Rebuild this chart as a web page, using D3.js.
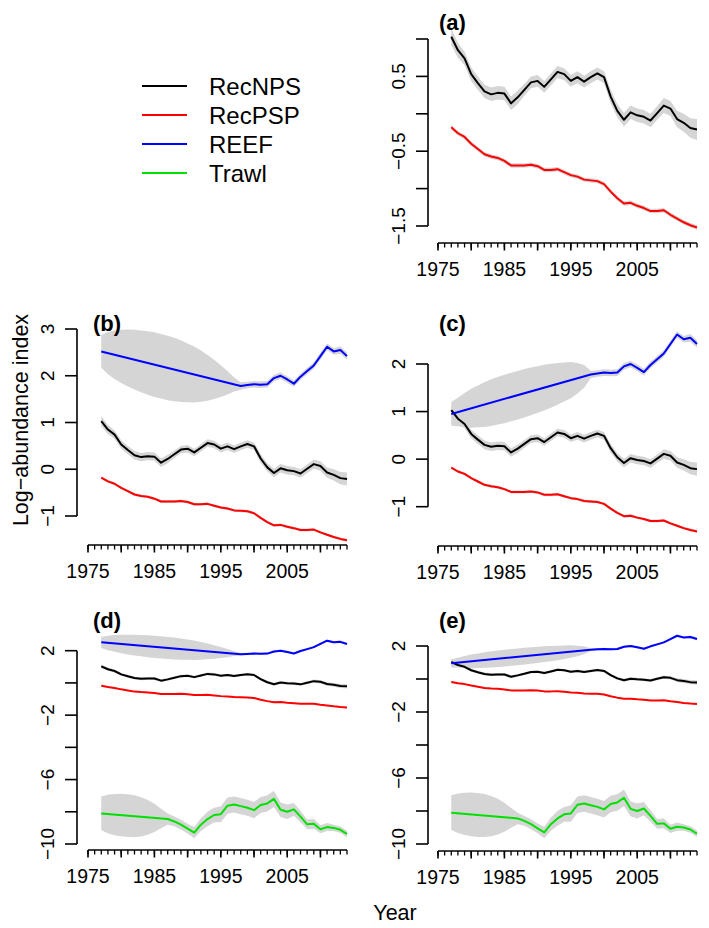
<!DOCTYPE html>
<html><head><meta charset="utf-8">
<script src="https://cdn.jsdelivr.net/npm/d3@7"></script>
<style>
body{margin:0;background:#fff}
svg{display:block}
text{font-family:"Liberation Sans",Arial,Helvetica,sans-serif;fill:#000}
</style>
</head><body>
<svg id="chart" width="709" height="928"></svg>
<script>
// ---------- data ----------
const years = [1977,1978,1979,1980,1981,1982,1983,1984,1985,1986,1987,1988,1989,1990,1991,1992,1993,1994,1995,1996,1997,1998,1999,2000,2001,2002,2003,2004,2005,2006,2007,2008,2009,2010,2011,2012,2013,2014];
const recNPS = [1.03,0.85,0.74,0.53,0.41,0.30,0.26,0.28,0.27,0.14,0.22,0.32,0.42,0.44,0.36,0.46,0.56,0.53,0.44,0.49,0.43,0.49,0.54,0.49,0.23,0.04,-0.08,0.02,-0.02,-0.04,-0.09,0.01,0.11,0.07,-0.07,-0.12,-0.19,-0.21];
const recNPSse = [0.11,0.10,0.09,0.09,0.09,0.09,0.09,0.09,0.09,0.09,0.09,0.08,0.08,0.08,0.08,0.08,0.08,0.08,0.08,0.08,0.08,0.08,0.08,0.08,0.09,0.09,0.09,0.09,0.09,0.09,0.09,0.09,0.10,0.10,0.11,0.12,0.13,0.14];
const recPSP = [-0.18,-0.26,-0.31,-0.40,-0.47,-0.54,-0.57,-0.59,-0.63,-0.69,-0.69,-0.69,-0.68,-0.70,-0.75,-0.75,-0.74,-0.78,-0.82,-0.84,-0.88,-0.89,-0.90,-0.94,-1.04,-1.13,-1.20,-1.19,-1.23,-1.26,-1.30,-1.30,-1.29,-1.35,-1.40,-1.45,-1.49,-1.52];
const recPSPse = [0.03,0.03,0.03,0.03,0.03,0.03,0.03,0.03,0.03,0.03,0.03,0.03,0.03,0.03,0.03,0.03,0.03,0.03,0.03,0.03,0.03,0.03,0.03,0.03,0.03,0.03,0.03,0.03,0.03,0.03,0.03,0.03,0.03,0.03,0.03,0.03,0.03,0.03];

const reefYears = [1977,1998,1999,2000,2001,2002,2003,2004,2005,2006,2007,2008,2009,2010,2011,2012,2013,2014];
const reefHigh  = [2.52,1.78,1.80,1.82,1.81,1.82,1.95,2.00,1.92,1.83,1.98,2.10,2.22,2.42,2.62,2.52,2.55,2.42]; // panels (b),(d)
const reefLow   = [0.95,1.78,1.80,1.82,1.81,1.82,1.95,2.00,1.92,1.83,1.98,2.10,2.22,2.42,2.62,2.52,2.55,2.42]; // panels (c),(e)
const reefHighSe = [0.35,0.45,0.52,0.57,0.61,0.64,0.66,0.68,0.69,0.69,0.69,0.68,0.66,0.63,0.60,0.55,0.49,0.42,0.34,0.25,0.15,0.08,0.07,0.07,0.07,0.07,0.07,0.07,0.07,0.07,0.07,0.07,0.07,0.07,0.07,0.07,0.08,0.08];
const reefLowSe  = [0.25,0.30,0.36,0.41,0.44,0.47,0.49,0.50,0.51,0.51,0.51,0.51,0.50,0.49,0.48,0.46,0.44,0.41,0.38,0.32,0.24,0.08,0.07,0.07,0.07,0.07,0.07,0.07,0.07,0.07,0.07,0.07,0.07,0.07,0.07,0.07,0.08,0.08];

const trawlYears = [1977,1987,1988,1989,1990,1991,1992,1993,1994,1995,1996,1997,1998,1999,2000,2001,2002,2003,2004,2005,2006,2007,2008,2009,2010,2011,2012,2013,2014];
const trawl = [-8.10,-8.45,-8.60,-8.80,-9.05,-9.30,-8.80,-8.45,-8.20,-8.15,-7.62,-7.55,-7.65,-7.75,-7.90,-7.58,-7.48,-7.20,-7.87,-8.00,-7.85,-8.30,-8.78,-8.75,-9.08,-8.95,-9.00,-9.12,-9.38];
const trawlSe = [1.05,1.20,1.28,1.32,1.33,1.30,1.22,1.08,0.88,0.60,0.35,0.30,0.30,0.30,0.35,0.40,0.45,0.45,0.50,0.50,0.50,0.50,0.50,0.50,0.50,0.50,0.50,0.45,0.45,0.40,0.35,0.30,0.30,0.25,0.25,0.20,0.20,0.20];

const legendNames = ["RecNPS","RecPSP","REEF","Trawl"];
const legendColors = ["#000000","#ff0000","#0000ff","#00e000"];

const xTicksMajor = [1975,1980,1985,1990,1995,2000,2005,2010];
const xTickLabels = [1975,1985,1995,2005];
const xTicksMinor = [1975,1976,1977,1978,1979,1980,1981,1982,1983,1984,1985,1986,1987,1988,1989,1990,1991,1992,1993,1994,1995,1996,1997,1998,1999,2000,2001,2002,2003,2004,2005,2006,2007,2008,2009,2010,2011,2012,2013,2014];

const yTicksA = [-1.5,-1,-0.5,0,0.5,1],      yLabA = [-1.5,-0.5,0.5];
const yTicksB = [-1,0,1,2,3],                yLabB = [-1,0,1,2,3];
const yTicksC = [-1,0,1,2],                  yLabC = [-1,0,1,2];
const yTicksD = [-10,-8,-6,-4,-2,0,2],       yLabD = [-10,-6,-2,2];
const yTicksE = [-10,-8,-6,-4,-2,0,2],       yLabE = [-10,-6,-2,2];

// ---------- series objects ----------
function full(vals, se){ return years.map((y,i)=>({year:y, v:vals[i], se:se[i]})); }
function sparse(ys, vals, se){
  // line points only at the given years; band center follows the straight segments of the line
  const pts = ys.map((y,i)=>({year:y, v:vals[i]}));
  const lin = d3.scaleLinear().domain(ys).range(vals);
  const band = years.filter(y=>y>=ys[0]).map(y=>({year:y, v:lin(y), se:se[years.indexOf(y)]}));
  return {pts, band};
}
const S = {
  nps:  {pts: full(recNPS,recNPSse), band: full(recNPS,recNPSse), color: legendColors[0]},
  psp:  {pts: full(recPSP,recPSPse), band: full(recPSP,recPSPse), color: legendColors[1]},
  reefH: Object.assign(sparse(reefYears, reefHigh, reefHighSe), {color: legendColors[2]}),
  reefL: Object.assign(sparse(reefYears, reefLow, reefLowSe), {color: legendColors[2]}),
  trawl: Object.assign(sparse(trawlYears, trawl, trawlSe), {color: legendColors[3]})
};

// ---------- layout ----------
const panels = [
  {title:"(a)", col:1, axisY:243, ticks:yTicksA, labs:yLabA, yr:[226,39],   titleY:30,  ser:["nps","psp"]},
  {title:"(b)", col:0, axisY:545, ticks:yTicksB, labs:yLabB, yr:[516,329],  titleY:331, ser:["reefH","nps","psp"]},
  {title:"(c)", col:1, axisY:546, ticks:yTicksC, labs:yLabC, yr:[506.7,364],titleY:331, ser:["reefL","nps","psp"]},
  {title:"(d)", col:0, axisY:850, ticks:yTicksD, labs:yLabD, yr:[844,650.7],titleY:628, ser:["reefH","trawl","nps","psp"]},
  {title:"(e)", col:1, axisY:851, ticks:yTicksE, labs:yLabE, yr:[844,646],  titleY:628, ser:["reefL","trawl","nps","psp"]}
];
const cols = [{x0:88, x1:347, axisX:77, titleX:93}, {x0:438, x1:697, axisX:428, titleX:439}];

const svg = d3.select("#chart");
const fmt = v => (v<0 ? "\u2212" : "") + String(Math.abs(v));

panels.forEach(p=>{
  const c = cols[p.col];
  const x = d3.scaleLinear().domain([1975,2014]).range([c.x0,c.x1]);
  const y = d3.scaleLinear().domain([d3.min(p.ticks), d3.max(p.ticks)]).range(p.yr);
  const g = svg.append("g");

  const area = d3.area().x(d=>x(d.year)).y0(d=>y(d.v-d.se)).y1(d=>y(d.v+d.se));
  const line = d3.line().x(d=>x(d.year)).y(d=>y(d.v));

  p.ser.forEach(k=>{
    g.append("path").attr("d", area(S[k].band)).attr("fill","#d5d5d5").attr("stroke","none");
  });
  const order = ["nps","psp","reefH","reefL","trawl"].filter(k=>p.ser.includes(k));
  order.forEach(k=>{
    g.append("path").attr("d", line(S[k].pts)).attr("fill","none")
      .attr("stroke", S[k].color).attr("stroke-width",2).attr("stroke-linejoin","round");
  });

  // y axis
  const ax = g.append("g").attr("stroke","#000").attr("stroke-width",1.6);
  ax.append("line").attr("x1",c.axisX).attr("x2",c.axisX)
    .attr("y1",y(d3.min(p.ticks))).attr("y2",y(d3.max(p.ticks)));
  p.ticks.forEach(t=>{
    ax.append("line").attr("x1",c.axisX-12).attr("x2",c.axisX).attr("y1",y(t)).attr("y2",y(t));
  });
  p.labs.forEach(t=>{
    g.append("text").attr("transform",`translate(${c.axisX-23},${y(t)}) rotate(-90)`)
      .attr("text-anchor","middle").attr("font-size",19).text(fmt(t));
  });

  // x axis
  ax.append("line").attr("x1",x(1975)).attr("x2",x(2014)).attr("y1",p.axisY).attr("y2",p.axisY);
  xTicksMinor.forEach(t=>{
    ax.append("line").attr("x1",x(t)).attr("x2",x(t)).attr("y1",p.axisY).attr("y2",p.axisY+4.5).attr("stroke-width",1.3);
  });
  xTicksMajor.forEach(t=>{
    ax.append("line").attr("x1",x(t)).attr("x2",x(t)).attr("y1",p.axisY).attr("y2",p.axisY+7.5);
  });
  xTickLabels.forEach(t=>{
    g.append("text").attr("x",x(t)).attr("y",p.axisY+33).attr("text-anchor","middle")
      .attr("font-size",19.5).text(t);
  });

  g.append("text").attr("x",c.titleX).attr("y",p.titleY).attr("font-size",22)
    .attr("font-weight","bold").text(p.title);
});

// legend
const lg = svg.append("g");
legendNames.forEach((n,i)=>{
  const yy = 86 + i*29;
  lg.append("line").attr("x1",142).attr("x2",187).attr("y1",yy).attr("y2",yy)
    .attr("stroke",legendColors[i]).attr("stroke-width",2);
  lg.append("text").attr("x",209).attr("y",yy+8.5).attr("font-size",24).text(n);
});

// axis titles
svg.append("text").attr("transform","translate(28,420) rotate(-90)").attr("text-anchor","middle")
  .attr("font-size",21.5).text("Log\u2212abundance index");
svg.append("text").attr("x",395).attr("y",920).attr("text-anchor","middle")
  .attr("font-size",21.5).text("Year");
</script>
</body></html>
